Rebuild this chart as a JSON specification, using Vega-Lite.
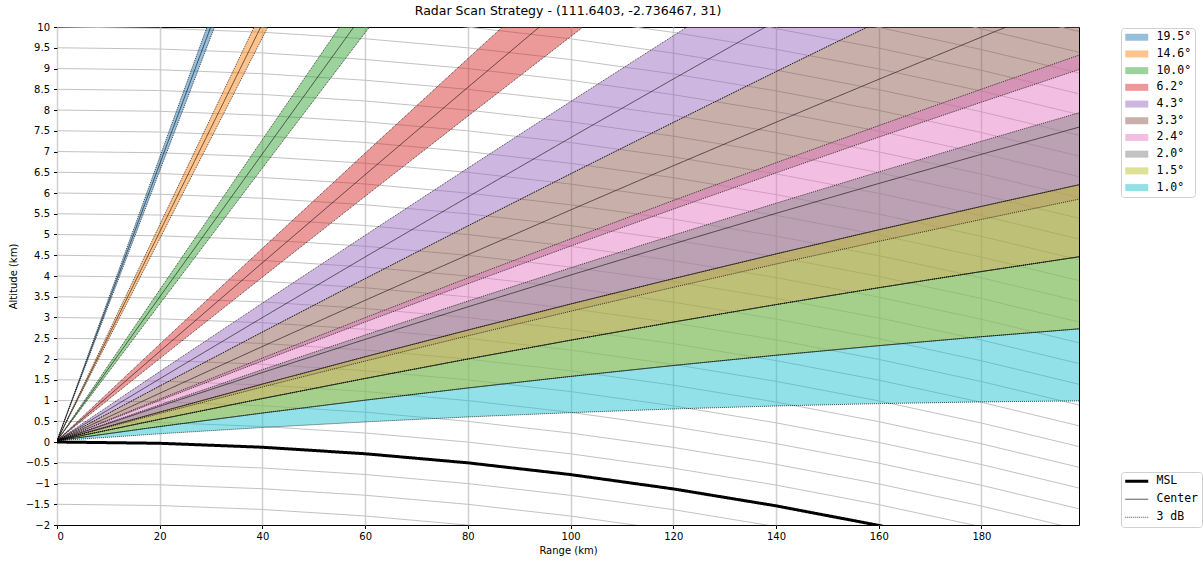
{
"$schema": "https://vega.github.io/schema/vega-lite/v6.json",
"width": 1022,
"height": 498,
"autosize": "none",
"padding": {"left": 57, "top": 27, "right": 124, "bottom": 36},
"background": "white",
"title": {"text": "Radar Scan Strategy - (111.6403, -2.736467, 31)", "font": "DejaVu Sans", "fontSize": 12.5, "fontWeight": "normal", "color": "black", "offset": 5},
"config": {
  "view": {"stroke": "black", "strokeWidth": 1},
  "axis": {"labelFont": "DejaVu Sans", "labelFontSize": 10, "titleFont": "DejaVu Sans", "titleFontSize": 10, "titleFontWeight": "normal", "labelColor": "black", "titleColor": "black", "tickColor": "black", "tickSize": 3.5, "domain": false, "labelOverlap": false}
},
"datasets": {
"beams": [
{"e":"19.5°","r":0,"lo":0.031,"c":0.031,"hi":0.031},
{"e":"19.5°","r":20,"lo":6.535,"c":6.699,"hi":6.864},
{"e":"19.5°","r":40,"lo":13.022,"c":13.352,"hi":13.680},
{"e":"14.6°","r":0,"lo":0.031,"c":0.031,"hi":0.031},
{"e":"14.6°","r":20,"lo":4.895,"c":5.065,"hi":5.233},
{"e":"14.6°","r":40,"lo":9.744,"c":10.082,"hi":10.420},
{"e":"14.6°","r":60,"lo":14.577,"c":15.085,"hi":15.591},
{"e":"10.0°","r":0,"lo":0.031,"c":0.031,"hi":0.031},
{"e":"10.0°","r":20,"lo":3.324,"c":3.496,"hi":3.668},
{"e":"10.0°","r":40,"lo":6.602,"c":6.946,"hi":7.289},
{"e":"10.0°","r":60,"lo":9.863,"c":10.379,"hi":10.895},
{"e":"10.0°","r":80,"lo":13.109,"c":13.797,"hi":14.484},
{"e":"6.2°","r":0,"lo":0.031,"c":0.031,"hi":0.031},
{"e":"6.2°","r":20,"lo":2.010,"c":2.183,"hi":2.357},
{"e":"6.2°","r":40,"lo":3.972,"c":4.320,"hi":4.667},
{"e":"6.2°","r":60,"lo":5.920,"c":6.441,"hi":6.961},
{"e":"6.2°","r":80,"lo":7.851,"c":8.546,"hi":9.239},
{"e":"6.2°","r":100,"lo":9.767,"c":10.635,"hi":11.502},
{"e":"6.2°","r":120,"lo":11.667,"c":12.709,"hi":13.750},
{"e":"4.3°","r":0,"lo":0.031,"c":0.031,"hi":0.031},
{"e":"4.3°","r":20,"lo":1.349,"c":1.523,"hi":1.697},
{"e":"4.3°","r":40,"lo":2.651,"c":2.999,"hi":3.347},
{"e":"4.3°","r":60,"lo":3.937,"c":4.459,"hi":4.981},
{"e":"4.3°","r":80,"lo":5.207,"c":5.904,"hi":6.600},
{"e":"4.3°","r":100,"lo":6.462,"c":7.333,"hi":8.203},
{"e":"4.3°","r":120,"lo":7.701,"c":8.746,"hi":9.790},
{"e":"4.3°","r":140,"lo":8.925,"c":10.143,"hi":11.361},
{"e":"4.3°","r":160,"lo":10.133,"c":11.525,"hi":12.917},
{"e":"3.3°","r":0,"lo":0.031,"c":0.031,"hi":0.031},
{"e":"3.3°","r":20,"lo":1.000,"c":1.174,"hi":1.349},
{"e":"3.3°","r":40,"lo":1.954,"c":2.302,"hi":2.651},
{"e":"3.3°","r":60,"lo":2.891,"c":3.414,"hi":3.937},
{"e":"3.3°","r":80,"lo":3.813,"c":4.510,"hi":5.207},
{"e":"3.3°","r":100,"lo":4.720,"c":5.591,"hi":6.462},
{"e":"3.3°","r":120,"lo":5.611,"c":6.656,"hi":7.701},
{"e":"3.3°","r":140,"lo":6.485,"c":7.705,"hi":8.925},
{"e":"3.3°","r":160,"lo":7.345,"c":8.739,"hi":10.133},
{"e":"3.3°","r":180,"lo":8.188,"c":9.757,"hi":11.325},
{"e":"3.3°","r":200,"lo":9.016,"c":10.759,"hi":12.501},
{"e":"2.4°","r":0,"lo":0.031,"c":0.031,"hi":0.031},
{"e":"2.4°","r":20,"lo":0.686,"c":0.861,"hi":1.035},
{"e":"2.4°","r":40,"lo":1.326,"c":1.675,"hi":2.023},
{"e":"2.4°","r":60,"lo":1.950,"c":2.473,"hi":2.996},
{"e":"2.4°","r":80,"lo":2.558,"c":3.256,"hi":3.953},
{"e":"2.4°","r":100,"lo":3.150,"c":4.022,"hi":4.894},
{"e":"2.4°","r":120,"lo":3.727,"c":4.774,"hi":5.820},
{"e":"2.4°","r":140,"lo":4.288,"c":5.509,"hi":6.729},
{"e":"2.4°","r":160,"lo":4.834,"c":6.229,"hi":7.624},
{"e":"2.4°","r":180,"lo":5.363,"c":6.933,"hi":8.502},
{"e":"2.4°","r":200,"lo":5.877,"c":7.621,"hi":9.365},
{"e":"2.0°","r":0,"lo":0.031,"c":0.031,"hi":0.031},
{"e":"2.0°","r":20,"lo":0.547,"c":0.721,"hi":0.896},
{"e":"2.0°","r":40,"lo":1.047,"c":1.396,"hi":1.744},
{"e":"2.0°","r":60,"lo":1.531,"c":2.054,"hi":2.578},
{"e":"2.0°","r":80,"lo":2.000,"c":2.697,"hi":3.395},
{"e":"2.0°","r":100,"lo":2.453,"c":3.325,"hi":4.197},
{"e":"2.0°","r":120,"lo":2.890,"c":3.936,"hi":4.983},
{"e":"2.0°","r":140,"lo":3.311,"c":4.532,"hi":5.753},
{"e":"2.0°","r":160,"lo":3.717,"c":5.113,"hi":6.508},
{"e":"2.0°","r":180,"lo":4.107,"c":5.677,"hi":7.247},
{"e":"2.0°","r":200,"lo":4.482,"c":6.226,"hi":7.970},
{"e":"1.0°","r":0,"lo":0.031,"c":0.031,"hi":0.031},
{"e":"1.0°","r":20,"lo":0.198,"c":0.372,"hi":0.547},
{"e":"1.0°","r":40,"lo":0.349,"c":0.698,"hi":1.047},
{"e":"1.0°","r":60,"lo":0.484,"c":1.008,"hi":1.531},
{"e":"1.0°","r":80,"lo":0.604,"c":1.302,"hi":2.000},
{"e":"1.0°","r":100,"lo":0.707,"c":1.580,"hi":2.453},
{"e":"1.0°","r":120,"lo":0.796,"c":1.843,"hi":2.890},
{"e":"1.0°","r":140,"lo":0.868,"c":2.090,"hi":3.311},
{"e":"1.0°","r":160,"lo":0.925,"c":2.321,"hi":3.717},
{"e":"1.0°","r":180,"lo":0.966,"c":2.537,"hi":4.107},
{"e":"1.0°","r":200,"lo":0.992,"c":2.737,"hi":4.482},
{"e":"1.5°","r":0,"lo":0.031,"c":0.031,"hi":0.031},
{"e":"1.5°","r":20,"lo":0.372,"c":0.547,"hi":0.721},
{"e":"1.5°","r":40,"lo":0.698,"c":1.047,"hi":1.396},
{"e":"1.5°","r":60,"lo":1.008,"c":1.531,"hi":2.054},
{"e":"1.5°","r":80,"lo":1.302,"c":2.000,"hi":2.697},
{"e":"1.5°","r":100,"lo":1.580,"c":2.453,"hi":3.325},
{"e":"1.5°","r":120,"lo":1.843,"c":2.890,"hi":3.936},
{"e":"1.5°","r":140,"lo":2.090,"c":3.311,"hi":4.532},
{"e":"1.5°","r":160,"lo":2.321,"c":3.717,"hi":5.113},
{"e":"1.5°","r":180,"lo":2.537,"c":4.107,"hi":5.677},
{"e":"1.5°","r":200,"lo":2.737,"c":4.482,"hi":6.226}
],
"msl": [
{"r":0,"y":0},{"r":20,"y":-0.031},{"r":40,"y":-0.126},{"r":60,"y":-0.283},{"r":80,"y":-0.502},{"r":100,"y":-0.785},{"r":120,"y":-1.13},{"r":140,"y":-1.538},{"r":160,"y":-2.009},{"r":180,"y":-2.543},{"r":200,"y":-3.139}
],
"alt": [
{"h":-1.5,"r":0,"y":-1.5},{"h":-1.5,"r":20,"y":-1.531},{"h":-1.5,"r":40,"y":-1.626},{"h":-1.5,"r":60,"y":-1.783},{"h":-1.5,"r":80,"y":-2.002},{"h":-1.5,"r":100,"y":-2.285},
{"h":-1,"r":0,"y":-1},{"h":-1,"r":20,"y":-1.031},{"h":-1,"r":40,"y":-1.126},{"h":-1,"r":60,"y":-1.283},{"h":-1,"r":80,"y":-1.502},{"h":-1,"r":100,"y":-1.785},{"h":-1,"r":120,"y":-2.13},
{"h":-0.5,"r":0,"y":-0.5},{"h":-0.5,"r":20,"y":-0.531},{"h":-0.5,"r":40,"y":-0.626},{"h":-0.5,"r":60,"y":-0.783},{"h":-0.5,"r":80,"y":-1.002},{"h":-0.5,"r":100,"y":-1.285},{"h":-0.5,"r":120,"y":-1.63},{"h":-0.5,"r":140,"y":-2.038},
{"h":0.5,"r":0,"y":0.5},{"h":0.5,"r":20,"y":0.469},{"h":0.5,"r":40,"y":0.374},{"h":0.5,"r":60,"y":0.217},{"h":0.5,"r":80,"y":-0.002},{"h":0.5,"r":100,"y":-0.285},{"h":0.5,"r":120,"y":-0.63},{"h":0.5,"r":140,"y":-1.038},{"h":0.5,"r":160,"y":-1.509},{"h":0.5,"r":180,"y":-2.043},
{"h":1,"r":0,"y":1},{"h":1,"r":20,"y":0.969},{"h":1,"r":40,"y":0.874},{"h":1,"r":60,"y":0.717},{"h":1,"r":80,"y":0.498},{"h":1,"r":100,"y":0.215},{"h":1,"r":120,"y":-0.13},{"h":1,"r":140,"y":-0.538},{"h":1,"r":160,"y":-1.009},{"h":1,"r":180,"y":-1.543},{"h":1,"r":200,"y":-2.139},
{"h":1.5,"r":0,"y":1.5},{"h":1.5,"r":20,"y":1.469},{"h":1.5,"r":40,"y":1.374},{"h":1.5,"r":60,"y":1.217},{"h":1.5,"r":80,"y":0.998},{"h":1.5,"r":100,"y":0.715},{"h":1.5,"r":120,"y":0.37},{"h":1.5,"r":140,"y":-0.038},{"h":1.5,"r":160,"y":-0.509},{"h":1.5,"r":180,"y":-1.043},{"h":1.5,"r":200,"y":-1.639},
{"h":2,"r":0,"y":2},{"h":2,"r":20,"y":1.969},{"h":2,"r":40,"y":1.874},{"h":2,"r":60,"y":1.717},{"h":2,"r":80,"y":1.498},{"h":2,"r":100,"y":1.215},{"h":2,"r":120,"y":0.87},{"h":2,"r":140,"y":0.462},{"h":2,"r":160,"y":-0.009},{"h":2,"r":180,"y":-0.543},{"h":2,"r":200,"y":-1.139},
{"h":2.5,"r":0,"y":2.5},{"h":2.5,"r":20,"y":2.469},{"h":2.5,"r":40,"y":2.374},{"h":2.5,"r":60,"y":2.217},{"h":2.5,"r":80,"y":1.998},{"h":2.5,"r":100,"y":1.715},{"h":2.5,"r":120,"y":1.37},{"h":2.5,"r":140,"y":0.962},{"h":2.5,"r":160,"y":0.491},{"h":2.5,"r":180,"y":-0.043},{"h":2.5,"r":200,"y":-0.639},
{"h":3,"r":0,"y":3},{"h":3,"r":20,"y":2.969},{"h":3,"r":40,"y":2.874},{"h":3,"r":60,"y":2.717},{"h":3,"r":80,"y":2.498},{"h":3,"r":100,"y":2.215},{"h":3,"r":120,"y":1.87},{"h":3,"r":140,"y":1.462},{"h":3,"r":160,"y":0.991},{"h":3,"r":180,"y":0.457},{"h":3,"r":200,"y":-0.139},
{"h":3.5,"r":0,"y":3.5},{"h":3.5,"r":20,"y":3.469},{"h":3.5,"r":40,"y":3.374},{"h":3.5,"r":60,"y":3.217},{"h":3.5,"r":80,"y":2.998},{"h":3.5,"r":100,"y":2.715},{"h":3.5,"r":120,"y":2.37},{"h":3.5,"r":140,"y":1.962},{"h":3.5,"r":160,"y":1.491},{"h":3.5,"r":180,"y":0.957},{"h":3.5,"r":200,"y":0.361},
{"h":4,"r":0,"y":4},{"h":4,"r":20,"y":3.969},{"h":4,"r":40,"y":3.874},{"h":4,"r":60,"y":3.717},{"h":4,"r":80,"y":3.498},{"h":4,"r":100,"y":3.215},{"h":4,"r":120,"y":2.87},{"h":4,"r":140,"y":2.462},{"h":4,"r":160,"y":1.991},{"h":4,"r":180,"y":1.457},{"h":4,"r":200,"y":0.861},
{"h":4.5,"r":0,"y":4.5},{"h":4.5,"r":20,"y":4.469},{"h":4.5,"r":40,"y":4.374},{"h":4.5,"r":60,"y":4.217},{"h":4.5,"r":80,"y":3.998},{"h":4.5,"r":100,"y":3.715},{"h":4.5,"r":120,"y":3.37},{"h":4.5,"r":140,"y":2.962},{"h":4.5,"r":160,"y":2.491},{"h":4.5,"r":180,"y":1.957},{"h":4.5,"r":200,"y":1.361},
{"h":5,"r":0,"y":5},{"h":5,"r":20,"y":4.969},{"h":5,"r":40,"y":4.874},{"h":5,"r":60,"y":4.717},{"h":5,"r":80,"y":4.498},{"h":5,"r":100,"y":4.215},{"h":5,"r":120,"y":3.87},{"h":5,"r":140,"y":3.462},{"h":5,"r":160,"y":2.991},{"h":5,"r":180,"y":2.457},{"h":5,"r":200,"y":1.861},
{"h":5.5,"r":0,"y":5.5},{"h":5.5,"r":20,"y":5.469},{"h":5.5,"r":40,"y":5.374},{"h":5.5,"r":60,"y":5.217},{"h":5.5,"r":80,"y":4.998},{"h":5.5,"r":100,"y":4.715},{"h":5.5,"r":120,"y":4.37},{"h":5.5,"r":140,"y":3.962},{"h":5.5,"r":160,"y":3.491},{"h":5.5,"r":180,"y":2.957},{"h":5.5,"r":200,"y":2.361},
{"h":6,"r":0,"y":6},{"h":6,"r":20,"y":5.969},{"h":6,"r":40,"y":5.874},{"h":6,"r":60,"y":5.717},{"h":6,"r":80,"y":5.498},{"h":6,"r":100,"y":5.215},{"h":6,"r":120,"y":4.87},{"h":6,"r":140,"y":4.462},{"h":6,"r":160,"y":3.991},{"h":6,"r":180,"y":3.457},{"h":6,"r":200,"y":2.861},
{"h":6.5,"r":0,"y":6.5},{"h":6.5,"r":20,"y":6.469},{"h":6.5,"r":40,"y":6.374},{"h":6.5,"r":60,"y":6.217},{"h":6.5,"r":80,"y":5.998},{"h":6.5,"r":100,"y":5.715},{"h":6.5,"r":120,"y":5.37},{"h":6.5,"r":140,"y":4.962},{"h":6.5,"r":160,"y":4.491},{"h":6.5,"r":180,"y":3.957},{"h":6.5,"r":200,"y":3.361},
{"h":7,"r":0,"y":7},{"h":7,"r":20,"y":6.969},{"h":7,"r":40,"y":6.874},{"h":7,"r":60,"y":6.717},{"h":7,"r":80,"y":6.498},{"h":7,"r":100,"y":6.215},{"h":7,"r":120,"y":5.87},{"h":7,"r":140,"y":5.462},{"h":7,"r":160,"y":4.991},{"h":7,"r":180,"y":4.457},{"h":7,"r":200,"y":3.861},
{"h":7.5,"r":0,"y":7.5},{"h":7.5,"r":20,"y":7.469},{"h":7.5,"r":40,"y":7.374},{"h":7.5,"r":60,"y":7.217},{"h":7.5,"r":80,"y":6.998},{"h":7.5,"r":100,"y":6.715},{"h":7.5,"r":120,"y":6.37},{"h":7.5,"r":140,"y":5.962},{"h":7.5,"r":160,"y":5.491},{"h":7.5,"r":180,"y":4.957},{"h":7.5,"r":200,"y":4.361},
{"h":8,"r":0,"y":8},{"h":8,"r":20,"y":7.969},{"h":8,"r":40,"y":7.874},{"h":8,"r":60,"y":7.717},{"h":8,"r":80,"y":7.498},{"h":8,"r":100,"y":7.215},{"h":8,"r":120,"y":6.87},{"h":8,"r":140,"y":6.462},{"h":8,"r":160,"y":5.991},{"h":8,"r":180,"y":5.457},{"h":8,"r":200,"y":4.861},
{"h":8.5,"r":0,"y":8.5},{"h":8.5,"r":20,"y":8.469},{"h":8.5,"r":40,"y":8.374},{"h":8.5,"r":60,"y":8.217},{"h":8.5,"r":80,"y":7.998},{"h":8.5,"r":100,"y":7.715},{"h":8.5,"r":120,"y":7.37},{"h":8.5,"r":140,"y":6.962},{"h":8.5,"r":160,"y":6.491},{"h":8.5,"r":180,"y":5.957},{"h":8.5,"r":200,"y":5.361},
{"h":9,"r":0,"y":9},{"h":9,"r":20,"y":8.969},{"h":9,"r":40,"y":8.874},{"h":9,"r":60,"y":8.717},{"h":9,"r":80,"y":8.498},{"h":9,"r":100,"y":8.215},{"h":9,"r":120,"y":7.87},{"h":9,"r":140,"y":7.462},{"h":9,"r":160,"y":6.991},{"h":9,"r":180,"y":6.457},{"h":9,"r":200,"y":5.861},
{"h":9.5,"r":0,"y":9.5},{"h":9.5,"r":20,"y":9.469},{"h":9.5,"r":40,"y":9.374},{"h":9.5,"r":60,"y":9.217},{"h":9.5,"r":80,"y":8.998},{"h":9.5,"r":100,"y":8.715},{"h":9.5,"r":120,"y":8.37},{"h":9.5,"r":140,"y":7.962},{"h":9.5,"r":160,"y":7.491},{"h":9.5,"r":180,"y":6.957},{"h":9.5,"r":200,"y":6.361},
{"h":10,"r":0,"y":10},{"h":10,"r":20,"y":9.969},{"h":10,"r":40,"y":9.874},{"h":10,"r":60,"y":9.717},{"h":10,"r":80,"y":9.498},{"h":10,"r":100,"y":9.215},{"h":10,"r":120,"y":8.87},{"h":10,"r":140,"y":8.462},{"h":10,"r":160,"y":7.991},{"h":10,"r":180,"y":7.457},{"h":10,"r":200,"y":6.861},
{"h":10.5,"r":0,"y":10.5},{"h":10.5,"r":20,"y":10.469},{"h":10.5,"r":40,"y":10.374},{"h":10.5,"r":60,"y":10.217},{"h":10.5,"r":80,"y":9.998},{"h":10.5,"r":100,"y":9.715},{"h":10.5,"r":120,"y":9.37},{"h":10.5,"r":140,"y":8.962},{"h":10.5,"r":160,"y":8.491},{"h":10.5,"r":180,"y":7.957},{"h":10.5,"r":200,"y":7.361},
{"h":11,"r":0,"y":11},{"h":11,"r":20,"y":10.969},{"h":11,"r":40,"y":10.874},{"h":11,"r":60,"y":10.717},{"h":11,"r":80,"y":10.498},{"h":11,"r":100,"y":10.215},{"h":11,"r":120,"y":9.87},{"h":11,"r":140,"y":9.462},{"h":11,"r":160,"y":8.991},{"h":11,"r":180,"y":8.457},{"h":11,"r":200,"y":7.861},
{"h":11.5,"r":80,"y":10.998},{"h":11.5,"r":100,"y":10.715},{"h":11.5,"r":120,"y":10.37},{"h":11.5,"r":140,"y":9.962},{"h":11.5,"r":160,"y":9.491},{"h":11.5,"r":180,"y":8.957},{"h":11.5,"r":200,"y":8.361},
{"h":12,"r":80,"y":11.498},{"h":12,"r":100,"y":11.215},{"h":12,"r":120,"y":10.87},{"h":12,"r":140,"y":10.462},{"h":12,"r":160,"y":9.991},{"h":12,"r":180,"y":9.457},{"h":12,"r":200,"y":8.861},
{"h":12.5,"r":100,"y":11.715},{"h":12.5,"r":120,"y":11.37},{"h":12.5,"r":140,"y":10.962},{"h":12.5,"r":160,"y":10.491},{"h":12.5,"r":180,"y":9.957},{"h":12.5,"r":200,"y":9.361},
{"h":13,"r":120,"y":11.87},{"h":13,"r":140,"y":11.462},{"h":13,"r":160,"y":10.991},{"h":13,"r":180,"y":10.457},{"h":13,"r":200,"y":9.861}
]
},
"encoding": {
  "x": {"field": "r", "type": "quantitative", "scale": {"domain": [0, 199], "nice": false, "zero": false},
        "axis": {"title": "Range (km)", "values": [0,20,40,60,80,100,120,140,160,180], "format": "~r", "grid": true, "gridColor": "#d0d0d0", "gridWidth": 1.5, "labelPadding": 3, "titlePadding": 4}}
},
"layer": [
  {
    "data": {"name": "alt"},
    "mark": {"type": "line", "stroke": "#c2c2c2", "strokeWidth": 1, "clip": true},
    "encoding": {
      "y": {"field": "y", "type": "quantitative", "scale": {"domain": [-2, 10], "nice": false, "zero": false},
            "axis": {"title": "Altitude (km)", "values": [-2,-1.5,-1,-0.5,0,0.5,1,1.5,2,2.5,3,3.5,4,4.5,5,5.5,6,6.5,7,7.5,8,8.5,9,9.5,10], "format": "~r", "grid": false, "labelPadding": 4, "titlePadding": 7, "labelOverlap": false}},
      "detail": {"field": "h", "type": "nominal"}
    }
  },
  {
    "data": {"name": "beams"},
    "mark": {"type": "area", "fillOpacity": 0.47, "clip": true},
    "encoding": {
      "y": {"field": "lo", "type": "quantitative", "stack": null,
            "axis": {"title": "Altitude (km)", "values": [-2,-1.5,-1,-0.5,0,0.5,1,1.5,2,2.5,3,3.5,4,4.5,5,5.5,6,6.5,7,7.5,8,8.5,9,9.5,10], "format": "~r", "grid": false, "labelPadding": 4, "titlePadding": 7, "labelOverlap": false}},
      "y2": {"field": "hi"},
      "fill": {"field": "e", "type": "nominal",
        "scale": {"domain": ["19.5°","14.6°","10.0°","6.2°","4.3°","3.3°","2.4°","2.0°","1.5°","1.0°"],
                  "range": ["#1f77b4","#ff7f0e","#2ca02c","#d62728","#9467bd","#8c564b","#e377c2","#7f7f7f","#bcbd22","#17becf"]},
        "legend": {"orient": "none", "legendX": 1064, "legendY": 1, "title": null,
                   "symbolType": "M-2.3,-0.7H2.3V0.7H-2.3Z", "symbolSize": 100, "symbolOpacity": 0.47, "symbolStrokeWidth": 0,
                   "symbolOffset": 6.5, "labelOffset": 14,
                   "labelFont": "DejaVu Sans Mono", "labelFontSize": 11.5, "labelColor": "black",
                   "rowPadding": 3.7, "padding": 3.5, "strokeColor": "#d0d0d0", "fillColor": "white", "cornerRadius": 3,
                   "labelExpr": "length(datum.label) < 5 ? '\u00a0' + datum.label : datum.label"}}
    }
  },
  {
    "data": {"name": "beams"},
    "mark": {"type": "line", "clip": true, "strokeWidth": 0.6},
    "encoding": {
      "y": {"field": "c", "type": "quantitative",
            "axis": {"title": "Altitude (km)", "values": [-2,-1.5,-1,-0.5,0,0.5,1,1.5,2,2.5,3,3.5,4,4.5,5,5.5,6,6.5,7,7.5,8,8.5,9,9.5,10], "format": "~r", "grid": false, "labelPadding": 4, "titlePadding": 7, "labelOverlap": false}},
      "detail": {"field": "e", "type": "nominal"},
      "stroke": {"datum": "Center", "type": "nominal", "scale": {"domain": ["MSL","Center","3 dB"], "range": ["black","black","black"]},
        "legend": {"orient": "none", "legendX": 1064, "legendY": 445, "title": null, "symbolType": "M-2.3,0H2.3", "symbolSize": 100, "symbolOffset": 6.5, "labelOffset": 14, "labelFont": "DejaVu Sans Mono", "labelFontSize": 11.5, "labelColor": "black", "rowPadding": 5, "padding": 3.5, "strokeColor": "#d0d0d0", "fillColor": "white", "cornerRadius": 3,
                   "encode": {"symbols": {"update": {"strokeWidth": {"signal": "datum.value === 'MSL' ? 3 : 0.7"}, "stroke": {"signal": "datum.value === 'Center' ? '#bbbbbb' : 'black'"}}}}}},
      "strokeDash": {"datum": "Center", "type": "nominal", "scale": {"domain": ["MSL","Center","3 dB"], "range": [[1,0],[1,0],[1,1]]},
        "legend": {"orient": "none", "legendX": 1064, "legendY": 445, "title": null, "symbolType": "M-2.3,0H2.3", "symbolSize": 100, "symbolOffset": 6.5, "labelOffset": 14, "labelFont": "DejaVu Sans Mono", "labelFontSize": 11.5, "labelColor": "black", "rowPadding": 5, "padding": 3.5, "strokeColor": "#d0d0d0", "fillColor": "white", "cornerRadius": 3,
                   "encode": {"symbols": {"update": {"strokeWidth": {"signal": "datum.value === 'MSL' ? 3 : 0.7"}, "stroke": {"signal": "datum.value === 'Center' ? '#bbbbbb' : 'black'"}}}}}}
    }
  },
  {
    "data": {"name": "beams"},
    "mark": {"type": "line", "clip": true, "strokeWidth": 0.7},
    "encoding": {
      "y": {"field": "lo", "type": "quantitative",
            "axis": {"title": "Altitude (km)", "values": [-2,-1.5,-1,-0.5,0,0.5,1,1.5,2,2.5,3,3.5,4,4.5,5,5.5,6,6.5,7,7.5,8,8.5,9,9.5,10], "format": "~r", "grid": false, "labelPadding": 4, "titlePadding": 7, "labelOverlap": false}},
      "detail": {"field": "e", "type": "nominal"},
      "stroke": {"datum": "3 dB", "type": "nominal"},
      "strokeDash": {"datum": "3 dB", "type": "nominal"}
    }
  },
  {
    "data": {"name": "beams"},
    "mark": {"type": "line", "clip": true, "strokeWidth": 0.7},
    "encoding": {
      "y": {"field": "hi", "type": "quantitative",
            "axis": {"title": "Altitude (km)", "values": [-2,-1.5,-1,-0.5,0,0.5,1,1.5,2,2.5,3,3.5,4,4.5,5,5.5,6,6.5,7,7.5,8,8.5,9,9.5,10], "format": "~r", "grid": false, "labelPadding": 4, "titlePadding": 7, "labelOverlap": false}},
      "detail": {"field": "e", "type": "nominal"},
      "stroke": {"datum": "3 dB", "type": "nominal"},
      "strokeDash": {"datum": "3 dB", "type": "nominal"}
    }
  },
  {
    "data": {"name": "msl"},
    "mark": {"type": "line", "clip": true, "strokeWidth": 3},
    "encoding": {
      "y": {"field": "y", "type": "quantitative",
            "axis": {"title": "Altitude (km)", "values": [-2,-1.5,-1,-0.5,0,0.5,1,1.5,2,2.5,3,3.5,4,4.5,5,5.5,6,6.5,7,7.5,8,8.5,9,9.5,10], "format": "~r", "grid": false, "labelPadding": 4, "titlePadding": 7, "labelOverlap": false}},
      "stroke": {"datum": "MSL", "type": "nominal"},
      "strokeDash": {"datum": "MSL", "type": "nominal"}
    }
  }
]
}
